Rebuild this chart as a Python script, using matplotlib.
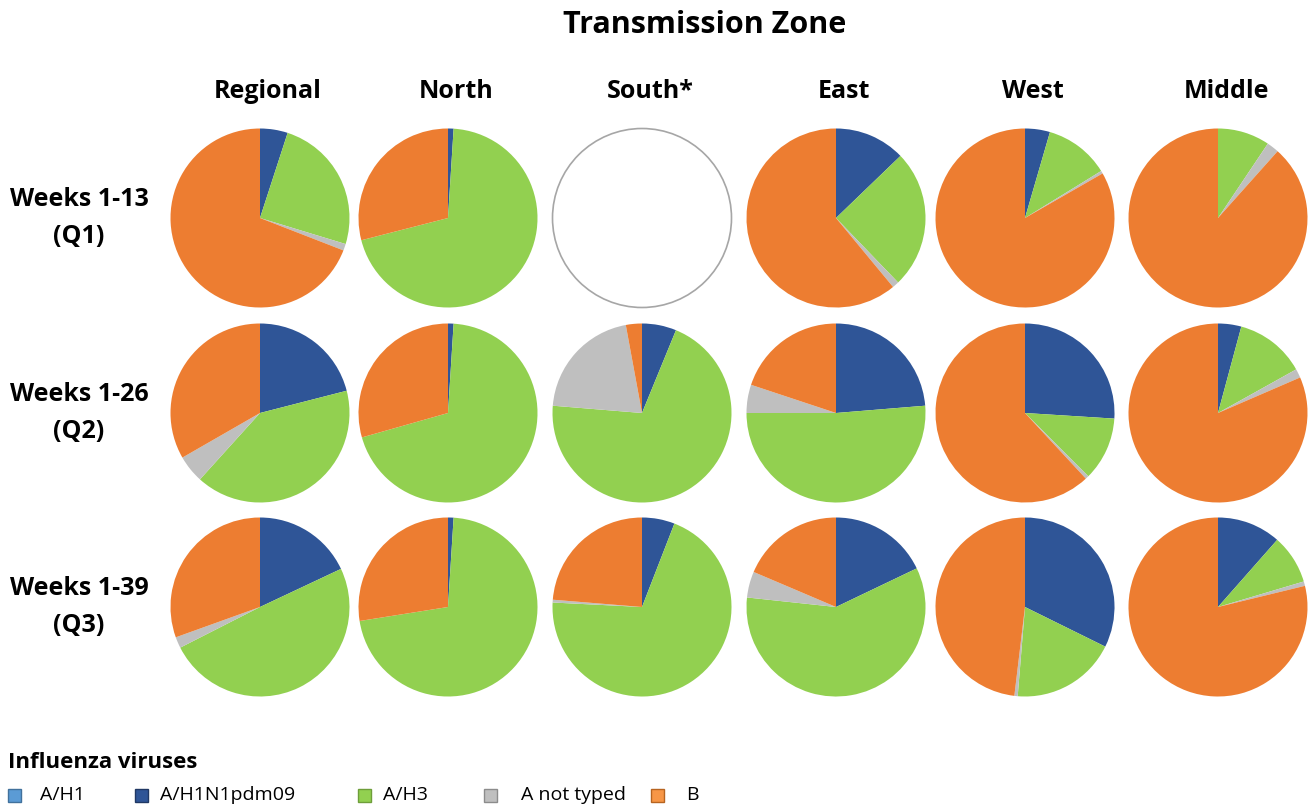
#!/usr/bin/env python
# coding=utf-8

import numpy as np
import matplotlib
matplotlib.use("Agg")
import matplotlib.pyplot as plt
from matplotlib.patches import Circle, Rectangle

zones   = ["Regional", "North", "South*", "East", "West", "Middle"]
periods = ["Weeks 1-13\n(Q1)", "Weeks 1-26\n(Q2)", "Weeks 1-39\n(Q3)"]
viruses = ["A/H1", "A/H1N1pdm09", "A/H3", "A not typed", "B"]

# share of each virus (%) per period (rows) and zone (columns)
a_h1 = [
    [0, 0, 0, 0, 0, 0],
    [0, 0, 0, 0, 0, 0],
    [0, 0, 0, 0, 0, 0],
]
a_h1n1pdm09 = [
    [5.0, 1.0, 0, 12.8, 4.5, 0],
    [21.0, 1.0, 6.2, 23.7, 26.0, 4.2],
    [18.0, 1.0, 5.9, 17.9, 32.3, 11.5],
]
a_h3 = [
    [24.7, 70.0, 0, 25.0, 11.7, 9.4],
    [40.7, 69.6, 70.1, 51.3, 11.5, 12.7],
    [49.5, 71.5, 69.9, 58.8, 19.0, 8.9],
]
a_not_typed = [
    [1.2, 0, 0, 1.2, 0.5, 2.2],
    [5.0, 0, 20.8, 5.1, 0.6, 1.6],
    [2.0, 0, 0.5, 4.7, 0.6, 0.8],
]
b = [
    [69.1, 29.0, 0, 61.0, 83.3, 88.4],
    [33.3, 29.4, 2.9, 19.9, 61.9, 81.5],
    [30.5, 27.5, 23.7, 18.6, 48.1, 78.8],
]

colors      = ["#5B9BD5", "#2F5597", "#92D050", "#BFBFBF", "#ED7D31"]
leg_colors  = ["#5B9BD5", "#2F5597", "#92D050", "#BFBFBF", "#F79646"]
leg_edges   = ["#41719C", "#203864", "#6E9E3A", "#8C8C8C", "#B76420"]

W, H = 1315, 808
col_x = [260, 448, 642, 836, 1025, 1218]
row_y = [218, 413, 607]
radius = 89.5

plt.rcParams['font.family'] = ['Open Sans', 'DejaVu Sans']

fig = plt.figure(figsize=(W / 100, H / 100), dpi=100)
fig.patch.set_facecolor("white")

def px(x, y):
    return x / W, 1 - y / H

series = [a_h1, a_h1n1pdm09, a_h3, a_not_typed, b]
lim = 1 + 2 / radius
for r in range(len(periods)):
    for c in range(len(zones)):
        vals = [s[r][c] for s in series]
        cx, cy = col_x[c], row_y[r]
        ax = fig.add_axes([(cx - radius - 2) / W, 1 - (cy + radius + 2) / H,
                           (2 * radius + 4) / W, (2 * radius + 4) / H])
        if sum(vals) == 0:
            ax.add_patch(Circle((0, 0), 1, facecolor="white",
                                edgecolor="#A6A6A6", lw=1.2))
        else:
            ax.pie(vals, colors=colors, startangle=90, counterclock=False,
                   radius=1, wedgeprops=dict(linewidth=0))
        ax.set_xlim(-lim, lim)
        ax.set_ylim(-lim, lim)
        ax.set_aspect("equal")
        ax.axis("off")

fig.text(*px(705, 25), "Transmission Zone", ha="center", va="center",
         fontsize=22, fontweight="bold")
for c, name in enumerate(zones):
    fig.text(*px(col_x[c] + 8, 92), name, ha="center", va="center",
             fontsize=18, fontweight="bold")
for r, name in enumerate(periods):
    fig.text(*px(79, row_y[r]), name, ha="center", va="center",
             fontsize=18, fontweight="bold", linespacing=1.65)

fig.text(*px(8, 762), "Influenza viruses", ha="left", va="center",
         fontsize=16, fontweight="bold")
sq_x  = [8, 135, 358, 484, 651]
lab_x = [40, 160, 383, 521, 686]
for i, name in enumerate(viruses):
    fig.patches.append(Rectangle(px(sq_x[i], 802), 13 / W, 13 / H,
                                 transform=fig.transFigure, figure=fig,
                                 facecolor=leg_colors[i], edgecolor=leg_edges[i], lw=1))
    fig.text(*px(lab_x[i], 795), name, ha="left", va="center", fontsize=14)

fig.savefig("out.png", dpi=100)
